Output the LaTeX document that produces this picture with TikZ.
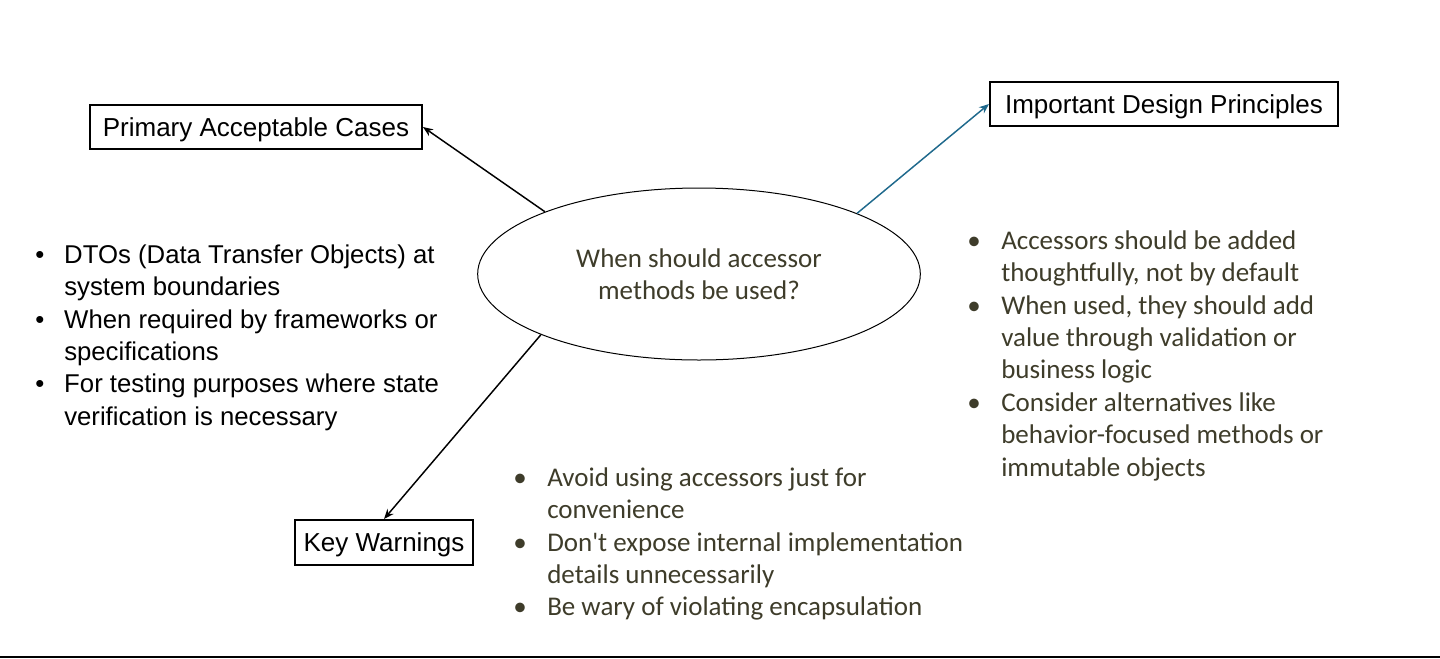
\documentclass[tikz,border=0pt]{standalone}
\usepackage{fontspec}
\setmainfont{Liberation Sans}
\newfontfamily\calibrifont{Carlito}
\usepackage{tikz}
\usetikzlibrary{arrows.meta,shapes.geometric}

\definecolor{textolive}{RGB}{62,60,42}
\definecolor{arrowteal}{RGB}{31,105,140}

% bullet line and continuation line
\newlength{\bgap}
\newcommand{\bfirst}{\makebox[\bgap][l]{\strut\textbullet}}
\newcommand{\bnext}{\hspace*{\bgap}}

\tikzset{
  headbox/.style={draw, line width=1.5pt, inner sep=0pt, text height=14pt, text depth=0pt,
                  font=\fontsize{19.5}{24.3}\selectfont},
  bulletlist/.style={anchor=north west, inner sep=0pt, yshift=17.01pt, align=left},
  plainlist/.style={bulletlist, font=\fontsize{19.3}{24.3}\selectfont},
  olivelist/.style={bulletlist, text=textolive, font=\calibrifont\fontsize{20.25}{24.3}\selectfont},
  link/.style={line width=1.1pt, -{Stealth[length=7.5pt,width=6pt]}}
}

\begin{document}
\begin{tikzpicture}[x=0.75pt, y=-0.75pt]
  \useasboundingbox (0,0) rectangle (1440,658);

  % centre question
  \node[ellipse, draw, line width=0.75pt, minimum width=332pt, minimum height=129pt, inner sep=0pt,
        align=center, text=textolive, font=\calibrifont\fontsize{20.25}{24.3}\selectfont]
    (question) at (699,274) {When should accessor\\methods be used?};

  % headings
  \node[headbox, minimum width=249pt, minimum height=33pt](cases) at (256,127){Primary Acceptable Cases};
  \node[headbox, minimum width=261pt, minimum height=33pt](principles) at (1164,104){Important Design Principles};
  \node[headbox, minimum width=133.5pt, minimum height=33.75pt](warnings) at (384,542.5){Key Warnings};

  \draw [link] (question.158.6) -- (cases.east);
  \draw [link, arrowteal] (question.21.5) -- (principles.west);
  \draw [link] (question.201.4) -- (warnings.north);

  % lists
  \setlength{\bgap}{21.75pt}
  \node[plainlist](caselist) at (35,263){%
    \bfirst DTOs (Data Transfer Objects) at\\
    \bnext system boundaries\\
    \bfirst When required by frameworks or\\
    \bnext specifications\\
    \bfirst For testing purposes where state\\
    \bnext verification is necessary};

  \setlength{\bgap}{25.5pt}
  \node[olivelist](warnlist) at (513,486){%
    \bfirst Avoid using accessors just for\\
    \bnext convenience\\
    \bfirst Don't expose internal implementation\\
    \bnext details unnecessarily\\
    \bfirst Be wary of violating encapsulation};

  \node[olivelist](principlelist) at (967,249){%
    \bfirst Accessors should be added\\
    \bnext thoughtfully, not by default\\
    \bfirst When used, they should add\\
    \bnext value through validation or\\
    \bnext business logic\\
    \bfirst Consider alternatives like\\
    \bnext behavior-focused methods or\\
    \bnext immutable objects};

  \draw [line width=1.5pt] (0,657) -- (1440,657);
\end{tikzpicture}
\end{document}
